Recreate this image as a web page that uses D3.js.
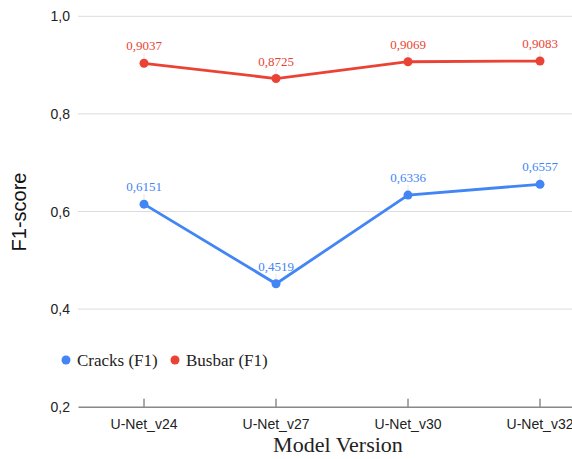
<!DOCTYPE html>
<html><head><meta charset="utf-8">
<script src="https://cdn.jsdelivr.net/npm/d3@7"></script>
<style>body{margin:0;background:#fff}svg{display:block}</style>
</head><body><svg id="c" width="572" height="459"></svg>
<script>
const categories = ["U-Net_v24","U-Net_v27","U-Net_v30","U-Net_v32"];
const cracks = [0.6151,0.4519,0.6336,0.6557];
const busbar = [0.9037,0.8725,0.9069,0.9083];
const yTicks = [0.2,0.4,0.6,0.8,1.0];
const seriesNames = ["Cracks (F1)","Busbar (F1)"];
const colors = ["#4285f4","#ea4335"];

const svg = d3.select("#c");
const x = d3.scaleBand().domain(categories).range([78,606]);
const y = d3.scaleLinear().domain([0.2,1.0]).range([406.7,16.3]);
const fmt = v => v.toFixed(1).replace(".",",");
const fmt4 = v => v.toFixed(4).replace(".",",");

svg.append("g").selectAll("line").data(yTicks.slice(1)).join("line")
  .attr("x1",78).attr("x2",572).attr("y1",d=>y(d)).attr("y2",d=>y(d))
  .attr("stroke","#dcdcdc").attr("stroke-width",1);
svg.append("g").selectAll("text").data(yTicks).join("text")
  .attr("x",70).attr("y",d=>y(d)+5).attr("text-anchor","end")
  .attr("font-family","Liberation Sans, Arial, sans-serif").attr("font-size",14).attr("fill","#222")
  .text(fmt);
const xa = svg.append("g").attr("transform","translate(0,406.7)")
  .call(d3.axisBottom(x).tickSizeInner(-8).tickSizeOuter(0).tickPadding(12));
xa.select(".domain").attr("stroke","#888").attr("stroke-width",1.5);
xa.selectAll(".tick line").attr("stroke","#555");
xa.selectAll(".tick text").attr("font-family","Liberation Sans, Arial, sans-serif").attr("font-size",14).attr("fill","#222");

svg.append("text").attr("transform","translate(26,212) rotate(-90)").attr("text-anchor","middle")
  .attr("font-family","Liberation Sans, Arial, sans-serif").attr("font-size",20).attr("fill","#111").text("F1-score");
svg.append("text").attr("x",338).attr("y",452).attr("text-anchor","middle")
  .attr("font-family","Liberation Serif, Times New Roman, serif").attr("font-size",22).attr("fill","#222").text("Model Version");

const cx = d => x(d)+x.bandwidth()/2;
[cracks,busbar].forEach((vals,i)=>{
  const data = categories.map((c,j)=>({c,v:vals[j]}));
  const g = svg.append("g");
  g.append("path").datum(data)
    .attr("d",d3.line().x(d=>cx(d.c)).y(d=>y(d.v)))
    .attr("fill","none").attr("stroke",colors[i]).attr("stroke-width",2.8);
  g.selectAll("line.lead").data(data).join("line").attr("class","lead")
    .attr("x1",d=>cx(d.c)).attr("x2",d=>cx(d.c)).attr("y1",d=>y(d.v)-4).attr("y2",d=>y(d.v)-10)
    .attr("stroke","#e6e6e6").attr("stroke-width",1);
  g.selectAll("circle").data(data).join("circle")
    .attr("cx",d=>cx(d.c)).attr("cy",d=>y(d.v)).attr("r",4.5).attr("fill",colors[i]);
  g.selectAll("text").data(data).join("text")
    .attr("x",d=>cx(d.c)).attr("y",d=>y(d.v)-13).attr("text-anchor","middle")
    .attr("font-family","Liberation Serif, Times New Roman, serif").attr("font-size",13)
    .attr("fill",colors[i]).text(d=>fmt4(d.v));
});

const leg = svg.append("g");
const lx = [66,175];
seriesNames.forEach((n,i)=>{
  leg.append("circle").attr("cx",lx[i]).attr("cy",360).attr("r",4.5).attr("fill",colors[i]);
  leg.append("text").attr("x",lx[i]+11).attr("y",366)
    .attr("font-family","Liberation Serif, Times New Roman, serif").attr("font-size",17).attr("fill","#222").text(n);
});
</script></body></html>
